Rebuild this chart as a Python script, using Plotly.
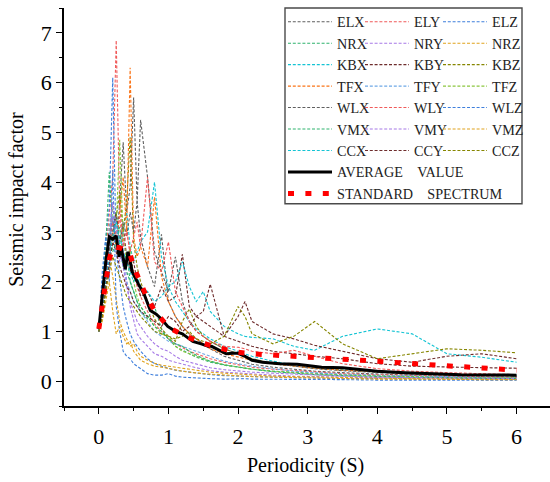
import plotly.graph_objects as go

# Period grid (s) shared by the 21 record spectra
periods = [0, 0.05, 0.1, 0.15, 0.2, 0.25, 0.3, 0.35, 0.4, 0.45, 0.5, 0.55, 0.6, 0.7, 0.8, 0.9,
           1.0, 1.1, 1.2, 1.3, 1.4, 1.5, 1.6, 1.8, 2.0, 2.1, 2.2, 2.5, 2.8, 3.1, 3.5, 4.0, 4.5,
           5.0, 5.5, 6.0]

ELX = [1.0, 1.5, 2.2, 2.9, 3.3, 2.7, 3.6, 4.8, 3.4, 3.9, 5.7, 3.6, 2.9, 2.3, 1.9, 2.95, 1.6, 1.3,
       1.1, 0.95, 0.85, 0.75, 0.65, 0.5, 0.42, 0.38, 0.34, 0.28, 0.24, 0.2, 0.17, 0.14, 0.12, 0.1,
       0.09, 0.08]
ELY = [1.0, 1.7, 2.6, 3.4, 4.1, 6.85, 3.5, 2.8, 3.1, 2.5, 2.2, 1.9, 1.7, 1.4, 1.15, 1.0, 0.85,
       0.75, 0.68, 0.6, 0.55, 0.5, 0.45, 0.38, 0.33, 0.3, 0.28, 0.24, 0.21, 0.18, 0.15, 0.13, 0.11,
       0.1, 0.09, 0.08]
ELZ = [1.0, 1.9, 2.9, 3.5, 6.1, 2.6, 2.0, 1.5, 1.2, 0.95, 0.8, 0.7, 0.6, 0.45, 0.35, 0.3, 0.26,
       0.22, 0.2, 0.18, 0.16, 0.15, 0.13, 0.11, 0.1, 0.09, 0.09, 0.08, 0.07, 0.06, 0.05, 0.05, 0.04,
       0.04, 0.03, 0.03]
NRX = [1.0, 1.8, 2.7, 4.2, 3.1, 3.4, 2.7, 2.3, 2.6, 2.0, 1.8, 1.6, 1.4, 1.25, 1.5, 1.05, 0.85,
       0.7, 0.62, 0.55, 0.48, 0.43, 0.38, 0.32, 0.28, 0.26, 0.24, 0.2, 0.18, 0.15, 0.13, 0.11, 0.09,
       0.08, 0.07, 0.06]
NRY = [1.0, 1.4, 2.1, 2.7, 3.3, 2.9, 2.4, 2.8, 2.0, 1.5, 1.2, 0.95, 0.85, 0.7, 0.55, 0.5, 0.42,
       0.38, 0.34, 0.3, 0.27, 0.24, 0.21, 0.18, 0.16, 0.15, 0.14, 0.12, 0.1, 0.09, 0.08, 0.07, 0.06,
       0.05, 0.05, 0.04]
NRZ = [1.0, 1.3, 1.9, 2.5, 2.1, 1.6, 1.2, 1.0, 0.85, 0.7, 0.75, 0.6, 0.5, 0.42, 0.36, 0.32, 0.3,
       0.28, 0.26, 0.25, 0.22, 0.2, 0.18, 0.16, 0.14, 0.13, 0.12, 0.1, 0.09, 0.08, 0.07, 0.06, 0.05,
       0.05, 0.04, 0.04]
KBX = [1.0, 1.5, 2.2, 2.8, 3.2, 2.9, 2.6, 3.0, 3.4, 2.7, 2.4, 2.6, 2.8, 3.0, 4.0, 2.5, 1.9, 1.6,
       1.4, 1.2, 1.05, 0.95, 0.85, 0.7, 0.6, 0.55, 0.5, 0.4, 0.33, 0.28, 0.23, 0.19, 0.16, 0.14,
       0.12, 0.11]
KBY = [1.0, 1.4, 2.0, 2.6, 3.0, 3.4, 2.8, 3.1, 2.5, 2.2, 2.4, 2.0, 1.7, 1.8, 1.5, 1.9, 1.6, 1.7,
       2.55, 1.5, 1.3, 1.2, 1.1, 0.9, 0.8, 0.75, 0.7, 0.6, 0.55, 0.5, 0.45, 0.35, 0.3, 0.28, 0.27,
       0.26]
KBZ = [1.0, 1.3, 1.8, 2.4, 2.8, 3.3, 3.8, 3.0, 3.6, 4.9, 2.8, 2.3, 2.0, 1.6, 1.25, 1.05, 0.9, 0.8,
       1.2, 1.45, 1.1, 0.9, 0.8, 0.65, 0.55, 0.5, 0.45, 0.35, 0.3, 0.26, 0.22, 0.18, 0.15, 0.13,
       0.12, 0.11]
TFX = [1.0, 1.5, 2.1, 2.6, 3.0, 2.7, 3.4, 4.1, 3.0, 6.3, 2.9, 2.5, 2.7, 2.3, 3.7, 2.1, 1.6, 1.3,
       1.1, 0.95, 0.85, 0.75, 0.65, 0.55, 0.48, 0.45, 0.42, 0.35, 0.3, 0.26, 0.22, 0.19, 0.16, 0.14,
       0.12, 0.11]
TFY = [1.0, 1.6, 2.4, 3.1, 3.6, 3.0, 2.6, 2.3, 2.0, 1.8, 1.6, 1.5, 1.4, 1.2, 1.0, 0.9, 0.8, 0.75,
       0.7, 0.65, 0.6, 0.55, 0.5, 0.4, 0.35, 0.32, 0.3, 0.25, 0.2, 0.17, 0.14, 0.12, 0.1, 0.09,
       0.08, 0.07]
TFZ = [1.0, 1.5, 2.3, 3.0, 3.5, 3.1, 4.85, 2.9, 2.4, 2.7, 2.0, 1.7, 1.5, 1.3, 1.1, 0.95, 0.9, 0.7,
       0.6, 0.55, 0.5, 0.45, 0.4, 0.33, 0.28, 0.26, 0.24, 0.2, 0.17, 0.14, 0.12, 0.1, 0.08, 0.07,
       0.06, 0.06]
WLX = [1.0, 1.4, 2.0, 2.6, 3.0, 3.3, 2.8, 3.2, 2.9, 3.4, 3.0, 3.6, 5.25, 4.1, 2.6, 2.2, 1.8, 2.5,
       1.6, 1.2, 1.0, 0.9, 0.8, 0.65, 0.55, 0.5, 0.45, 0.36, 0.3, 0.25, 0.21, 0.17, 0.14, 0.12,
       0.11, 0.1]
WLY = [1.0, 1.5, 2.2, 2.8, 3.2, 2.9, 3.3, 2.7, 3.0, 2.6, 2.9, 3.2, 2.7, 4.1, 2.4, 2.2, 2.8, 1.8,
       1.5, 1.2, 1.0, 0.9, 0.8, 0.7, 0.68, 0.65, 0.6, 0.55, 0.62, 0.5, 0.35, 0.25, 0.2, 0.17, 0.15,
       0.13]
WLZ = [1.0, 2.2, 2.9, 2.0, 4.25, 1.5, 1.0, 0.6, 0.5, 0.45, 0.35, 0.3, 0.25, 0.15, 0.12, 0.12,
       0.15, 0.1, 0.08, 0.07, 0.06, 0.05, 0.05, 0.04, 0.05, 0.05, 0.04, 0.04, 0.03, 0.03, 0.03,
       0.02, 0.02, 0.02, 0.02, 0.02]
VMX = [1.0, 1.6, 2.4, 3.0, 2.6, 2.8, 3.1, 2.5, 2.2, 2.0, 1.8, 1.6, 1.5, 1.3, 1.1, 1.0, 0.85, 0.75,
       0.7, 0.6, 0.52, 0.46, 0.4, 0.33, 0.28, 0.26, 0.24, 0.19, 0.16, 0.13, 0.11, 0.09, 0.08, 0.07,
       0.06, 0.05]
VMY = [1.0, 1.5, 2.2, 2.9, 3.6, 3.1, 2.7, 2.3, 1.9, 1.6, 1.4, 1.2, 1.1, 0.9, 0.75, 0.65, 0.6, 0.5,
       0.42, 0.38, 0.34, 0.3, 0.27, 0.23, 0.2, 0.19, 0.18, 0.16, 0.14, 0.12, 0.1, 0.08, 0.07, 0.06,
       0.05, 0.05]
VMZ = [1.0, 1.2, 1.6, 2.0, 1.4, 0.95, 1.1, 0.9, 0.75, 0.8, 0.6, 0.5, 0.42, 0.35, 0.3, 0.28, 0.25,
       0.22, 0.2, 0.18, 0.16, 0.15, 0.14, 0.12, 0.1, 0.1, 0.09, 0.08, 0.07, 0.06, 0.05, 0.04, 0.04,
       0.03, 0.03, 0.03]
CCX = [1.0, 1.4, 2.0, 2.5, 2.9, 3.2, 2.8, 2.6, 2.4, 2.2, 2.0, 2.1, 1.9, 1.8, 1.6, 1.7, 1.9, 2.0,
       2.4, 1.9, 1.6, 1.8, 1.4, 1.1, 0.95, 0.9, 0.88, 0.85, 0.7, 0.62, 0.9, 1.05, 0.95, 0.55, 0.48,
       0.38]
CCY = [1.0, 1.3, 1.9, 2.4, 2.8, 2.6, 2.3, 2.1, 1.9, 1.8, 1.6, 1.5, 1.4, 1.3, 1.2, 1.1, 1.3, 1.2,
       1.0, 1.1, 1.3, 1.4, 1.95, 0.9, 1.3, 1.6, 1.2, 0.95, 0.85, 0.72, 0.6, 0.45, 0.38, 0.5, 0.55,
       0.45]
CCZ = [1.0, 1.3, 1.8, 2.2, 2.5, 2.3, 2.1, 1.9, 1.7, 1.6, 1.5, 1.4, 1.3, 1.15, 1.0, 0.95, 0.9, 0.85,
       0.9, 1.0, 0.85, 0.8, 0.75, 0.9, 1.5, 1.3, 0.95, 0.75, 0.9, 1.2, 0.75, 0.45, 0.55, 0.65, 0.62,
       0.57]

series_names = ["ELX", "ELY", "ELZ", "NRX", "NRY", "NRZ", "KBX", "KBY", "KBZ", "TFX", "TFY", "TFZ",
                "WLX", "WLY", "WLZ", "VMX", "VMY", "VMZ", "CCX", "CCY", "CCZ"]
series_values = [ELX, ELY, ELZ, NRX, NRY, NRZ, KBX, KBY, KBZ, TFX, TFY, TFZ,
                 WLX, WLY, WLZ, VMX, VMY, VMZ, CCX, CCY, CCZ]

avg_periods = [0, 0.05, 0.1, 0.15, 0.2, 0.25, 0.29, 0.32, 0.38, 0.42, 0.48, 0.57, 0.65, 0.74,
               0.82, 0.9, 0.99, 1.1, 1.2, 1.25, 1.35, 1.47, 1.57, 1.62, 1.72, 1.83, 1.93, 2.0,
               2.1, 2.2, 2.35, 2.6, 2.85, 3.0, 3.2, 3.5, 3.77, 4.0, 4.4, 4.7, 5.2, 6.0]
avg_values = [1.05, 1.7, 2.4, 2.9, 2.85, 2.92, 2.5, 2.7, 2.25, 2.6, 2.2, 1.95, 1.75, 1.42, 1.35,
              1.25, 1.1, 1.0, 0.95, 0.9, 0.8, 0.75, 0.7, 0.7, 0.63, 0.55, 0.56, 0.56, 0.5, 0.42,
              0.38, 0.35, 0.34, 0.32, 0.28, 0.27, 0.23, 0.2, 0.17, 0.15, 0.13, 0.12]

std_periods = [0, 0.05, 0.1, 0.15, 0.2, 0.3, 0.4, 0.45, 0.5, 0.6, 0.7, 0.8, 0.9, 1.0, 1.25, 1.5,
               1.75, 2.0, 2.25, 2.5, 2.75, 3.0, 3.25, 3.5, 3.75, 4.0, 4.25, 4.5, 4.75, 5.0, 5.25,
               5.5, 5.75, 6.0]
std_values = [1.05, 1.5, 2.05, 2.45, 2.7, 2.68, 2.62, 2.55, 2.3, 1.95, 1.65, 1.42, 1.25, 1.08, 0.9,
              0.76, 0.66, 0.58, 0.545, 0.52, 0.505, 0.485, 0.46, 0.44, 0.42, 0.40, 0.375, 0.36,
              0.34, 0.31, 0.29, 0.27, 0.24, 0.22]

x_ticks = [0, 1, 2, 3, 4, 5, 6]
y_ticks = [0, 1, 2, 3, 4, 5, 6, 7]

palette = ["#5f5f5f", "#f05a5a", "#3f7fdc", "#2fb36e", "#a678e6", "#e0a21c",
           "#14c4d4", "#6e2c2c", "#868600", "#fa7417", "#6ea8e6", "#8cc63f"]

SERIF = "Liberation Serif, Times New Roman, serif"
legend_ids = ["legend", "legend2", "legend3"]

fig = go.Figure()
for i, (name, vals) in enumerate(zip(series_names, series_values)):
    fig.add_trace(go.Scatter(
        x=periods, y=vals, mode="lines", name=name,
        line=dict(color=palette[i % 12], width=1.1, dash="3px,1.8px"),
        legend=legend_ids[i % 3],
    ))

fig.add_trace(go.Scatter(
    x=avg_periods, y=avg_values, mode="lines", name="AVERAGE\u2003VALUE",
    line=dict(color="black", width=3), legend="legend",
))
fig.add_trace(go.Scatter(
    x=std_periods, y=std_values, mode="lines", name="STANDARD\u2003SPECTRUM",
    line=dict(color="#ff0000", width=5, dash="6px,11.4px"), legend="legend",
))

W, H = 550, 482
ml, mr, mt, mb = 64, 0, 8, 75.5
pw = W - ml - mr
ph = H - mt - mb


def px_x(p):
    return (p - ml) / pw


def px_y(p):
    return 1 - (p - mt) / ph


leg_common = dict(
    yanchor="top", xanchor="left", y=px_y(6), bgcolor="rgba(0,0,0,0)", borderwidth=0,
    font=dict(family=SERIF, size=14.2, color="#222222"), itemwidth=44, tracegroupgap=0,
    orientation="v",
)

axis_common = dict(
    showgrid=False, zeroline=False, showline=True, linecolor="black", linewidth=1.5,
    ticks="outside", ticklen=6, tickwidth=1.4, tickcolor="black",
    tickfont=dict(family=SERIF, size=22, color="black"),
    minor=dict(ticks="outside", ticklen=3.5, tickwidth=1.2, tickcolor="black", dtick=0.5),
    mirror=False,
)

fig.update_layout(
    width=W, height=H,
    margin=dict(l=ml, r=mr, t=mt, b=mb, autoexpand=False),
    plot_bgcolor="white", paper_bgcolor="white",
    showlegend=True,
    legend=dict(x=px_x(283), **leg_common),
    legend2=dict(x=px_x(360), **leg_common),
    legend3=dict(x=px_x(438), **leg_common),
    xaxis=dict(range=[-0.5, 6.48], tickvals=x_ticks, ticktext=[str(v) for v in x_ticks],
               ticklabelstandoff=4, **axis_common),
    yaxis=dict(range=[-0.5, 7.5], tickvals=y_ticks, ticktext=[str(v) for v in y_ticks],
               ticklabelstandoff=0, **axis_common),
    shapes=[dict(type="rect", xref="paper", yref="paper",
                 x0=px_x(285), x1=px_x(522), y0=px_y(204), y1=px_y(8),
                 line=dict(color="#4a4a4a", width=1.4), fillcolor="rgba(0,0,0,0)")],
    annotations=[
        dict(text="Periodicity (S)", xref="paper", yref="paper", x=px_x(305), y=px_y(466),
             xanchor="center", yanchor="middle", showarrow=False,
             font=dict(family=SERIF, size=20, color="black")),
        dict(text="Seismic impact factor", xref="paper", yref="paper", x=px_x(17), y=px_y(200),
             xanchor="center", yanchor="middle", showarrow=False, textangle=-90,
             font=dict(family=SERIF, size=20, color="black")),
    ],
)

fig.write_html("out.html",
               config={"displayModeBar": False},
               post_script="document.body.style.margin='0px';document.body.style.overflow='hidden';")
